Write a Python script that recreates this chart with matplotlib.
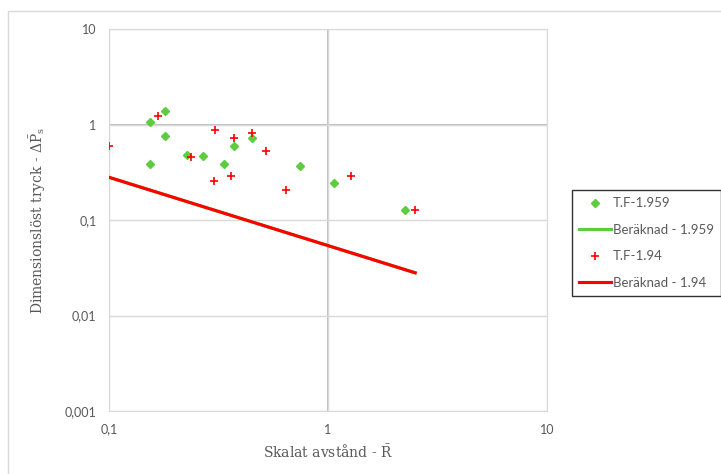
import matplotlib.pyplot as plt
from matplotlib.ticker import FuncFormatter, FixedLocator
from matplotlib.patches import Rectangle

# data
tf1959_x = [0.154, 0.154, 0.18, 0.18, 0.226, 0.27, 0.335, 0.372, 0.449, 0.745, 1.06, 2.25]
tf1959_y = [1.07, 0.39, 1.40, 0.75, 0.485, 0.466, 0.388, 0.60, 0.72, 0.372, 0.245, 0.128]

tf194_x = [0.1, 0.168, 0.236, 0.303, 0.305, 0.36, 0.372, 0.449, 0.519, 0.64, 1.27, 2.49]
tf194_y = [0.59, 1.24, 0.46, 0.255, 0.88, 0.29, 0.73, 0.82, 0.534, 0.207, 0.29, 0.128]

calc_x = [0.1, 2.5]
calc1959_y = [0.28, 0.028]
calc194_y = [0.28, 0.028]

x_ticks = [0.1, 1, 10]
y_ticks = [0.001, 0.01, 0.1, 1, 10]

green = "#5ecc3f"
red = "#ff0000"
gray_txt = "#595959"

plt.rcParams["mathtext.fontset"] = "custom"
plt.rcParams["mathtext.rm"] = "DejaVu Serif"
plt.rcParams["mathtext.it"] = "DejaVu Serif:italic"

fig = plt.figure(figsize=(7.21, 4.74), dpi=100)
ax = fig.add_axes([109 / 721, 63 / 474, 438 / 721, 382 / 474])

# outer chart frame
fig.patches.append(Rectangle((8 / 721, -0.1), 1.2, (463 / 474) + 0.1, transform=fig.transFigure,
                             fill=False, edgecolor="#d9d9d9", linewidth=1))

ax.set_xscale("log")
ax.set_yscale("log")
ax.set_xlim(0.1, 10)
ax.set_ylim(0.001, 10)

ax.xaxis.set_major_locator(FixedLocator(x_ticks))
ax.yaxis.set_major_locator(FixedLocator(y_ticks))
ax.xaxis.set_minor_locator(FixedLocator([]))
ax.yaxis.set_minor_locator(FixedLocator([]))
fmt = FuncFormatter(lambda v, p: ("%g" % v).replace(".", ","))
ax.xaxis.set_major_formatter(fmt)
ax.yaxis.set_major_formatter(fmt)

ax.grid(True, color="#d9d9d9", linewidth=1)
ax.axvline(1, color="#bfbfbf", linewidth=1.5, zorder=1)
ax.axhline(1, color="#bfbfbf", linewidth=1.5, zorder=1)
for s in ax.spines.values():
    s.set_color("#d9d9d9")
ax.tick_params(length=0, labelsize=9, labelcolor=gray_txt, pad=9)
for lab in ax.get_xticklabels() + ax.get_yticklabels():
    lab.set_family("Lato")

ax.plot(calc_x, calc1959_y, color=green, linewidth=2.25, label="Beräknad - 1.959", zorder=2)
ax.plot(calc_x, calc194_y, color=red, linewidth=2.25, label="Beräknad - 1.94", zorder=3)
ax.plot(tf1959_x, tf1959_y, linestyle="none", marker="D", markersize=4.5, color=green,
        label="T.F-1.959", zorder=4)
ax.plot(tf194_x, tf194_y, linestyle="none", marker="+", markersize=6, markeredgewidth=1.2,
        color=red, label="T.F-1.94", zorder=5)

ax.set_xlabel(r"Skalat avstånd - $\bar{\mathrm{R}}$", family="DejaVu Serif", fontsize=10,
              color=gray_txt, labelpad=6)
ax.set_ylabel(r"Dimensionslöst tryck - $\Delta\bar{\mathrm{P}}_\mathrm{s}$", family="DejaVu Serif",
              fontsize=10, color=gray_txt, labelpad=12)

h, l = ax.get_legend_handles_labels()
order = [2, 0, 3, 1]
leg = fig.legend([h[i] for i in order], [l[i] for i in order],
                 loc="upper left", bbox_to_anchor=(572 / 721, 1 - 190 / 474),
                 frameon=True, fancybox=False, edgecolor="black",
                 labelspacing=1.1, handlelength=2.4, handletextpad=0.15, borderpad=0.55,
                 borderaxespad=0, prop={"family": "Lato", "size": 9.5})
leg.get_frame().set_linewidth(1)
for t in leg.get_texts():
    t.set_color(gray_txt)

fig.savefig("out.png", dpi=100)
